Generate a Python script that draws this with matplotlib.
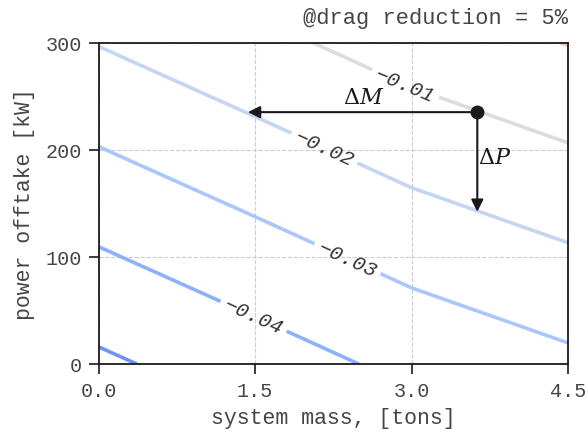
#
# Drag-reduction trade-off map: power offtake vs system mass
#
import numpy as np
import matplotlib
matplotlib.use('Agg')
import matplotlib.pyplot as plt

# grid (coarse, contours are linear between nodes)
mass = [0.0, 1.5, 3.0, 4.5]            # tons
power = [0.0, 100.0, 200.0, 300.0]     # kW
dcost = [
    [-0.0517, -0.0447, -0.0376, -0.0321],
    [-0.0410, -0.0340, -0.0269, -0.0214],
    [-0.0303, -0.0233, -0.0162, -0.0107],
    [-0.0196, -0.0126, -0.0055, 0.0003],
]
levels = [-0.05, -0.04, -0.03, -0.02, -0.01, 0.0]
label_pos = [(2.94, 261), (2.17, 203), (2.36, 93), (1.45, 37)]

# point on the -0.01 line and where the arrows land on -0.02
pt_mass, pt_power = 3.63, 235
tip_mass, tip_power = 1.43, 142

matplotlib.rc('font', family=['Liberation Mono', 'DejaVu Sans Mono'], size=14)
matplotlib.rc('mathtext', fontset='dejavuserif')

fig = plt.figure(figsize=(5.88, 4.35), dpi=100)
fig.subplots_adjust(0.168, 0.161, 0.966, 0.9)
ax = fig.add_subplot(1, 1, 1)

ax.grid(True, ls='--', color='#cccccc', lw=0.8, zorder=0)
ax.set_axisbelow(True)

cs = ax.contour(mass, power, np.array(dcost), levels=levels,
                cmap='coolwarm', vmin=-0.07, vmax=0.05, linewidths=2.6)
txts = ax.clabel(cs, inline=True, fontsize=15, colors='#333333',
                 manual=label_pos,
                 fmt=lambda v: ('%.2f' % v).replace('-', '\u2212'))
for t in txts:
    t.set_fontstyle('italic')

# arrows
ax.annotate('', xy=(tip_mass, pt_power), xytext=(pt_mass, pt_power),
            arrowprops=dict(arrowstyle='-|>', color='#1a1a1a', lw=1.5,
                            mutation_scale=18, shrinkA=0, shrinkB=0))
ax.annotate('', xy=(pt_mass, tip_power), xytext=(pt_mass, pt_power),
            arrowprops=dict(arrowstyle='-|>', color='#1a1a1a', lw=1.5,
                            mutation_scale=18, shrinkA=0, shrinkB=0))
ax.plot(pt_mass, pt_power, 'o', color='#1a1a1a', ms=9, zorder=5)
ax.text(2.34, 249, r'$\Delta M$', fontsize=16, va='center', color='#1a1a1a')
ax.text(3.64, 193, r'$\Delta P$', fontsize=16, va='center', color='#1a1a1a')

ax.set_xlim(0, 4.5)
ax.set_ylim(0, 300)
ax.set_xticks([0.0, 1.5, 3.0, 4.5])
ax.set_xticklabels(['0.0', '1.5', '3.0', '4.5'])
ax.set_yticks([0, 100, 200, 300])
ax.tick_params(direction='out', length=7, width=1.2, pad=5,
               colors='#1a1a1a', labelcolor='#444444', labelsize=14.5)
for sp in ax.spines.values():
    sp.set_linewidth(1.3)
    sp.set_color('#1a1a1a')

ax.set_xlabel('system mass, [tons]', fontsize=15.5, color='#444444',
              labelpad=5)
ax.set_ylabel('power offtake [kW]', fontsize=15.5, color='#444444',
              labelpad=8)
ax.set_title('@drag reduction = 5%', loc='right', fontsize=15.8,
             color='#444444', pad=14)

plt.savefig('out.png', dpi=100)
plt.close()
